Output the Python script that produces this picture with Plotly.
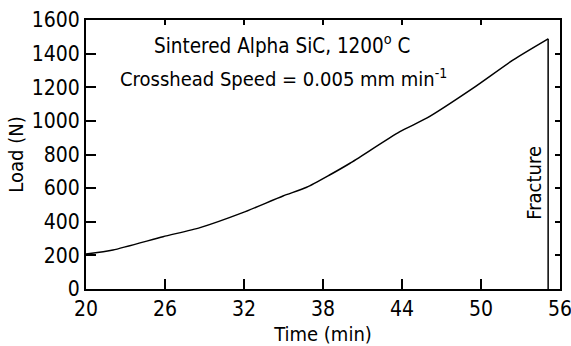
import plotly.graph_objects as go

time_min = [20.0, 22.05, 25.85, 28.66, 31.9, 34.96, 36.76, 38.5, 40.05, 43.84, 45.87, 49.4, 52.45, 55.1]
load_n = [208, 232, 311, 365, 454, 553, 605, 678, 748, 936, 1016, 1195, 1363, 1488]
fracture_time = 55.1
x_ticks = [20, 26, 32, 38, 44, 50, 56]
y_ticks = [0, 200, 400, 600, 800, 1000, 1200, 1400, 1600]

FONT = "DejaVu Sans Condensed, DejaVu Sans, sans-serif"

fig = go.Figure()
fig.add_trace(go.Scatter(x=time_min, y=load_n, mode="lines",
                         line=dict(color="black", width=1.5, shape="spline", smoothing=0.6),
                         showlegend=False, hoverinfo="skip"))
fig.add_trace(go.Scatter(x=[fracture_time, fracture_time], y=[load_n[-1], 0], mode="lines",
                         line=dict(color="black", width=1.5), showlegend=False, hoverinfo="skip"))
fig.add_trace(go.Scatter(x=[20], y=[0], xaxis="x2", yaxis="y2", mode="markers",
                         marker=dict(opacity=0), showlegend=False, hoverinfo="skip"))

fig.update_layout(
    width=571, height=346,
    margin=dict(l=86, r=11, t=20, b=57),
    paper_bgcolor="white", plot_bgcolor="white",
    font=dict(family=FONT, size=20, color="black"),
    xaxis=dict(range=[19.999, 56.001], tickvals=x_ticks, ticktext=[str(v) for v in x_ticks],
               ticks="inside", ticklen=10, tickwidth=1.5, tickcolor="black",
               showline=True, linecolor="black", linewidth=2, showgrid=False, zeroline=False,
               automargin=False, ticklabeloverflow="allow",
               title=dict(text="Time (min)", font=dict(size=20), standoff=8),
               tickfont=dict(size=21)),
    yaxis=dict(range=[0, 1600], tickvals=y_ticks, ticktext=[str(v) for v in y_ticks],
               ticks="inside", ticklen=10, tickwidth=1.5, tickcolor="black",
               showline=True, linecolor="black", linewidth=2, showgrid=False, zeroline=False,
               automargin=False, ticklabeloverflow="allow",
               title=dict(text="Load (N)", font=dict(size=20), standoff=3),
               tickfont=dict(size=21)),
    xaxis2=dict(overlaying="x", side="top", range=[19.999, 56.001], tickvals=x_ticks,
                showticklabels=False, ticks="inside", ticklen=5, tickwidth=1.5, tickcolor="black",
                showline=True, linecolor="black", linewidth=2, showgrid=False, zeroline=False),
    yaxis2=dict(overlaying="y", side="right", range=[0, 1600], tickvals=y_ticks,
                showticklabels=False, ticks="inside", ticklen=5, tickwidth=1.5, tickcolor="black",
                showline=True, linecolor="black", linewidth=2, showgrid=False, zeroline=False),
)

fig.add_annotation(x=34.9, y=1452, xref="x", yref="y", showarrow=False,
                   text="Sintered Alpha SiC, 1200<sup>o</sup> C", font=dict(size=20.5))
fig.add_annotation(x=35.0, y=1256, xref="x", yref="y", showarrow=False,
                   text="Crosshead Speed = 0.005 mm min<sup>-1</sup>", font=dict(size=20))
fig.add_annotation(x=54.0, y=630, xref="x", yref="y", showarrow=False, textangle=-90,
                   text="Fracture", font=dict(size=20))

fig.write_html("out.html")
